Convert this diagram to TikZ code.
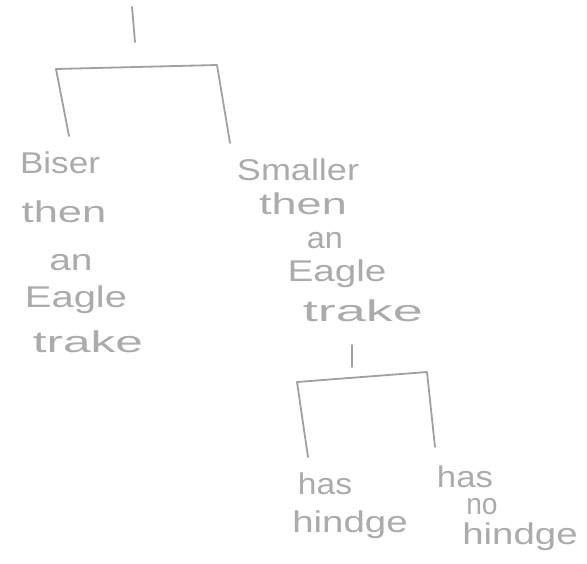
\documentclass[tikz,border=0pt]{standalone}
\usepackage{fontspec}
\usepackage{graphicx}
\setmainfont{Liberation Sans}
\definecolor{pencil}{HTML}{A0A0A0}
\definecolor{penciltext}{HTML}{ABABAB}
\newcommand\sxw[2]{\scalebox{#1}[1]{#2}}
\begin{document}
\begin{tikzpicture}[x=1pt,y=-1pt,
  pline/.style={draw=pencil,line width=1.8pt,line cap=round,line join=round},
  word/.style={text=penciltext,font=\fontsize{30}{30}\selectfont,inner sep=0pt}]
\useasboundingbox (0,0) rectangle (587,563);
\fill[white] (0,0) rectangle (587,563);

% upper tree
\coordinate (root) at (132,7);
\coordinate (stem1) at (135,42);
\coordinate (barL1) at (56,69);
\coordinate (barR1) at (217,65);
\coordinate (legL1) at (69,136);
\coordinate (legR1) at (230,143);
\draw[pline] (root) -- (stem1);
\draw[pline] (legL1) -- (barL1) -- (barR1) -- (legR1);

% left label
\node[word] (b1) at (60,163) {\sxw{1.17}{Biser}};
\node[word] (b2) at (64,212) {\sxw{1.45}{then}};
\node[word] (b3) at (71,263) {\sxw{1.3}{an}};
\node[word] (b4) at (76,300) {\sxw{1.33}{Eagle}};
\node[word] (b5) at (88,342) {\sxw{1.65}{trake}};

% right label
\node[word] (s1) at (298,170) {\sxw{1.2}{Smaller}};
\node[word] (s2) at (303,204) {\sxw{1.5}{then}};
\node[word] (s3) at (325,241) {\sxw{1.08}{an}};
\node[word] (s4) at (337,274) {\sxw{1.29}{Eagle}};
\node[word] (s5) at (363,311) {\sxw{1.8}{trake}};

% lower tree
\coordinate (root2) at (352,345);
\coordinate (stem2) at (352,367);
\coordinate (barL2) at (297,382);
\coordinate (barR2) at (427,372);
\coordinate (legL2) at (308,457);
\coordinate (legR2) at (435,447);
\draw[pline] (root2) -- (stem2);
\draw[pline] (legL2) -- (barL2) -- (barR2) -- (legR2);

% bottom labels
\node[word] (h1) at (325,484) {\sxw{1.12}{has}};
\node[word] (h2) at (350,525) {\sxw{1.28}{hindge}};
\node[word] (n1) at (465,477) {\sxw{1.16}{has}};
\node[word] (n2) at (482,507) {\sxw{0.94}{no}};
\node[word] (n3) at (520,537) {\sxw{1.28}{hindge}};
\end{tikzpicture}
\end{document}
